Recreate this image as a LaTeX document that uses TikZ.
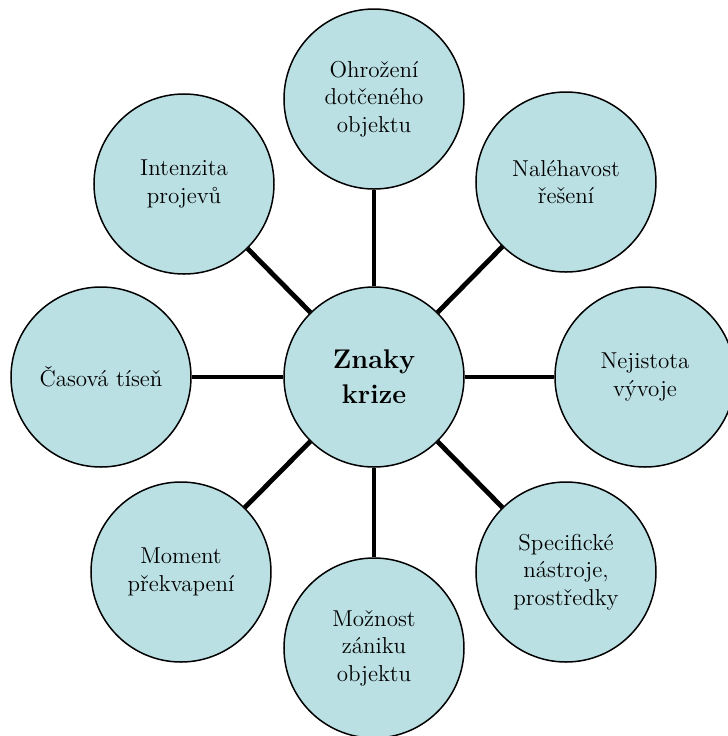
\documentclass[tikz,border=0pt]{standalone}
\usepackage{xcolor}
\usepackage{tikz}
\usetikzlibrary{positioning}
\definecolor{krizeblue}{RGB}{186,224,228}

\begin{document}
\begin{tikzpicture}[x=0.5pt, y=-0.5pt, align=center]
    % Define styles
    \tikzstyle{sign} = [circle, minimum size=90pt, inner sep=1pt, draw=black, line width=0.75pt, fill=krizeblue, font=\fontsize{11.5}{13.8}\selectfont]
    \tikzstyle{core} = [sign, font=\fontsize{13.5}{17.5}\selectfont\bfseries]
    \tikzstyle{spoke} = [line width=2.4pt]

    \useasboundingbox (0,0) rectangle (728,736);
    \clip (0,0) rectangle (728,736);

    % Nodes
    \node (znaky) [core] at (374,377) {Znaky\\krize};
    \node (ohrozeni) [sign] at (374,99) {Ohrožení\\dotčeného\\objektu};
    \node (nalehavost) [sign] at (566,182) {Naléhavost\\řešení};
    \node (nejistota) [sign] at (645,377) {Nejistota\\vývoje};
    \node (nastroje) [sign] at (566,572) {Specifické\\nástroje,\\prostředky};
    \node (zanik) [sign] at (374,648) {Možnost\\zániku\\objektu};
    \node (moment) [sign] at (181,572) {Moment\\překvapení};
    \node (tisen) [sign] at (101,377) {Časová tíseň};
    \node (intenzita) [sign] at (184,184) {Intenzita\\projevů};

    % Connectors
    \draw [spoke] (znaky) -- (ohrozeni);
    \draw [spoke] (znaky) -- (nalehavost);
    \draw [spoke] (znaky) -- (nejistota);
    \draw [spoke] (znaky) -- (nastroje);
    \draw [spoke] (znaky) -- (zanik);
    \draw [spoke] (znaky) -- (moment);
    \draw [spoke] (znaky) -- (tisen);
    \draw [spoke] (znaky) -- (intenzita);
\end{tikzpicture}
\end{document}
